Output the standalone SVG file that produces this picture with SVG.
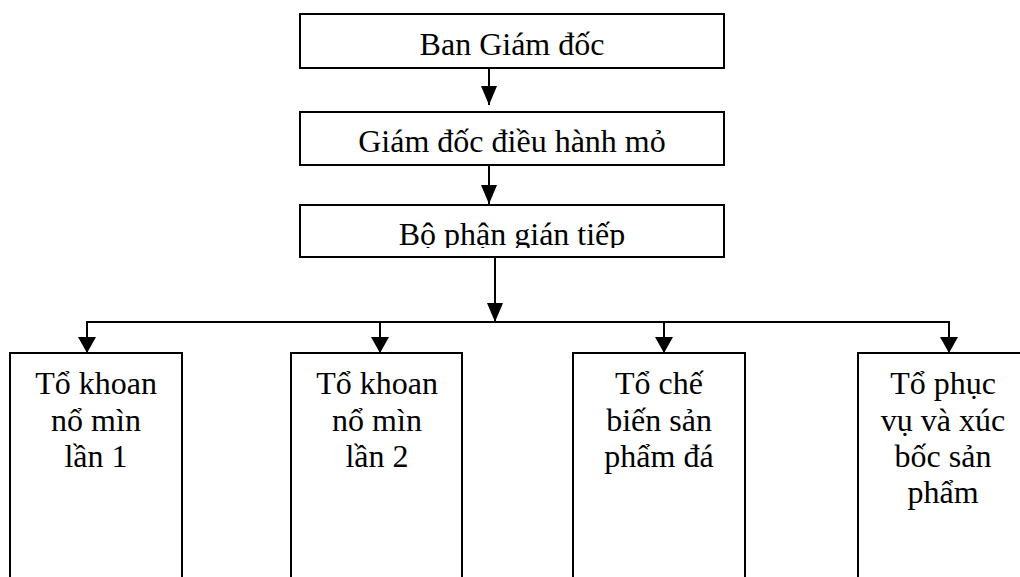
<svg xmlns="http://www.w3.org/2000/svg" width="1020" height="577" viewBox="0 0 1020 577">
  <style>
    .box { fill: #ffffff; stroke: #000000; stroke-width: 2; }
    .lbl { font-family: "Liberation Serif", "Times New Roman", serif; font-size: 32px; fill: #000000; text-anchor: middle; }
    .wire { fill: none; stroke: #000000; stroke-width: 2; }
  </style>
  <defs>
    <!-- long narrow head for the top chain -->
    <marker id="arrow" viewBox="0 0 19 16" refX="19" refY="8" markerWidth="19" markerHeight="16" markerUnits="userSpaceOnUse" orient="auto">
      <path d="M0,0 L19,8 L0,16 z" fill="#000000"/>
    </marker>
    <!-- short wide head for the team branches -->
    <marker id="arrow-branch" viewBox="0 0 16 18" refX="16" refY="9" markerWidth="16" markerHeight="18" markerUnits="userSpaceOnUse" orient="auto">
      <path d="M0,0 L16,9 L0,18 z" fill="#000000"/>
    </marker>
    <clipPath id="clip-indirect">
      <rect x="301" y="206" width="422" height="42"/>
    </clipPath>
  </defs>
  <rect width="1020" height="577" fill="#ffffff"/>

  <!-- top chain -->
  <g id="ban-giam-doc">
    <rect class="box" x="300" y="14" width="424" height="54"/>
    <text class="lbl" x="512" y="55">Ban Giám đốc</text>
  </g>
  <g id="giam-doc-dieu-hanh">
    <rect class="box" x="300" y="112" width="424" height="53"/>
    <text class="lbl" x="512" y="152">Giám đốc điều hành mỏ</text>
  </g>
  <g id="bo-phan-gian-tiep">
    <rect class="box" x="300" y="205" width="424" height="52"/>
    <text class="lbl" x="512" y="245" clip-path="url(#clip-indirect)">Bộ phận gián tiếp</text>
  </g>

  <!-- work teams -->
  <g id="to-khoan-1">
    <rect class="box" x="10" y="353" width="172" height="240"/>
    <text class="lbl" x="96" y="394">Tổ khoan</text>
    <text class="lbl" x="96" y="431">nổ mìn</text>
    <text class="lbl" x="96" y="467">lần 1</text>
  </g>
  <g id="to-khoan-2">
    <rect class="box" x="291" y="353" width="171" height="240"/>
    <text class="lbl" x="377" y="394">Tổ khoan</text>
    <text class="lbl" x="377" y="431">nổ mìn</text>
    <text class="lbl" x="377" y="467">lần 2</text>
  </g>
  <g id="to-che-bien">
    <rect class="box" x="573" y="353" width="172" height="240"/>
    <text class="lbl" x="659" y="394">Tổ chế</text>
    <text class="lbl" x="659" y="431">biến sản</text>
    <text class="lbl" x="659" y="467">phẩm đá</text>
  </g>
  <g id="to-phuc-vu">
    <rect class="box" x="858" y="353" width="172" height="240"/>
    <text class="lbl" x="943" y="394">Tổ phục</text>
    <text class="lbl" x="943" y="431">vụ và xúc</text>
    <text class="lbl" x="943" y="467">bốc sản</text>
    <text class="lbl" x="943" y="503">phẩm</text>
  </g>

  <!-- connectors -->
  <g id="connectors">
    <path class="wire" d="M489,68 V105" marker-end="url(#arrow)"/>
    <path class="wire" d="M489,165 V204" marker-end="url(#arrow)"/>
    <path class="wire" d="M495,257 V322" marker-end="url(#arrow)"/>
    <path class="wire" d="M86,322 H950"/>
    <path class="wire" d="M87,322 V353" marker-end="url(#arrow-branch)"/>
    <path class="wire" d="M380,322 V353" marker-end="url(#arrow-branch)"/>
    <path class="wire" d="M664,322 V353" marker-end="url(#arrow-branch)"/>
    <path class="wire" d="M949,322 V353" marker-end="url(#arrow-branch)"/>
  </g>
</svg>
